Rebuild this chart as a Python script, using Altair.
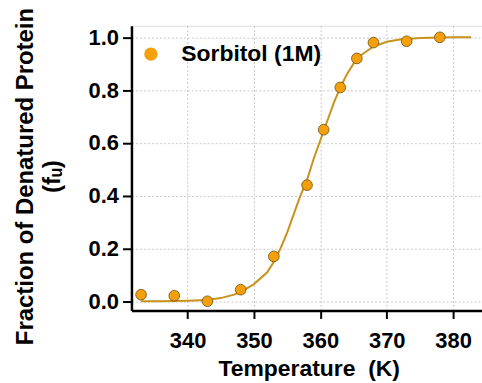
import altair as alt
import pandas as pd

# Measured data points
temp_pts = [333.0, 338.0, 343.0, 348.0, 353.0, 358.0, 360.5, 363.0, 365.5, 368.0, 373.0, 378.0]
fu_pts = [0.025, 0.021, 0.0, 0.044, 0.17, 0.44, 0.65, 0.81, 0.92, 0.98, 0.985, 1.0]

# Fitted curve
temp_fit = [333, 336, 340, 343, 345, 347, 348, 350, 352, 353, 354, 355, 356, 357, 358, 359, 360,
            361, 362, 363, 364, 365, 366, 368, 370, 372, 375, 378, 380, 382.7]
fu_fit = [0.0, 0.0, 0.002, 0.005, 0.012, 0.025, 0.035, 0.065, 0.11, 0.15, 0.2, 0.26, 0.33, 0.4,
          0.46, 0.54, 0.61, 0.68, 0.75, 0.81, 0.86, 0.9, 0.93, 0.965, 0.983, 0.992, 0.997, 0.999,
          1.0, 1.0]

series_name = "Sorbitol (1M)"
x_ticks = [340, 350, 360, 370, 380]
y_ticks = [0.0, 0.2, 0.4, 0.6, 0.8, 1.0]

pts = pd.DataFrame({"T": temp_pts, "fu": fu_pts, "series": series_name})
fit = pd.DataFrame({"T": temp_fit, "fu": fu_fit})

FONT = "Liberation Sans"
x_scale = alt.Scale(domain=[331.55, 384.35], nice=False, zero=False)
y_scale = alt.Scale(domain=[-0.035, 1.044], nice=False, zero=False)

x_axis = alt.Axis(values=x_ticks, title="Temperature\u00a0\u00a0(K)", format="d",
                  labelFont=FONT, labelFontSize=22, labelFontWeight="bold", labelColor="black",
                  titleFont=FONT, titleFontSize=23, titleFontWeight="bold", titleColor="black",
                  titleY=47, titleX=178,
                  tickSize=8, tickWidth=2, tickColor="black", labelPadding=12,
                  domainColor="black", domainWidth=2.5,
                  grid=True, gridDash=[2, 2], gridColor="#c8c8c8", gridWidth=1)
y_axis = alt.Axis(values=y_ticks, title=["Fraction of Denatured Protein", "(fᵤ)"], format=".1f",
                  labelFont=FONT, labelFontSize=22, labelFontWeight="bold", labelColor="black",
                  titleFont=FONT, titleFontSize=24, titleFontWeight="bold", titleColor="black",
                  titleLineHeight=27, titleX=-94, titleY=151,
                  tickSize=9, tickWidth=2, tickColor="black", labelPadding=4,
                  domainColor="black", domainWidth=2.5,
                  grid=True, gridDash=[2, 2], gridColor="#c8c8c8", gridWidth=1)

line = alt.Chart(fit).mark_line(color="#C8921E", strokeWidth=2).encode(
    x=alt.X("T:Q", scale=x_scale, axis=x_axis),
    y=alt.Y("fu:Q", scale=y_scale, axis=y_axis),
)

points = alt.Chart(pts).mark_point(filled=True, size=115, opacity=1,
                                   stroke="#6b4e10", strokeWidth=0.8).encode(
    x=alt.X("T:Q", scale=x_scale),
    y=alt.Y("fu:Q", scale=y_scale),
    color=alt.Color("series:N",
                    scale=alt.Scale(domain=[series_name], range=["#F5A00A"]),
                    legend=alt.Legend(title=None, orient="none", legendX=8, legendY=17,
                                      labelFont=FONT, labelFontSize=23, labelFontWeight="bold",
                                      labelColor="black", symbolSize=180, symbolType="circle",
                                      symbolStrokeWidth=0, labelOffset=19, padding=0)),
)

chart = alt.layer(line, points).properties(
    width=352, height=286,
    autosize=alt.AutoSizeParams(type="none"),
    padding={"left": 132, "top": 25, "right": 0, "bottom": 72},
).configure_view(stroke="black", strokeWidth=2).configure(background="white")

chart.save("out.html", embed_options={"renderer": "svg", "actions": False})
